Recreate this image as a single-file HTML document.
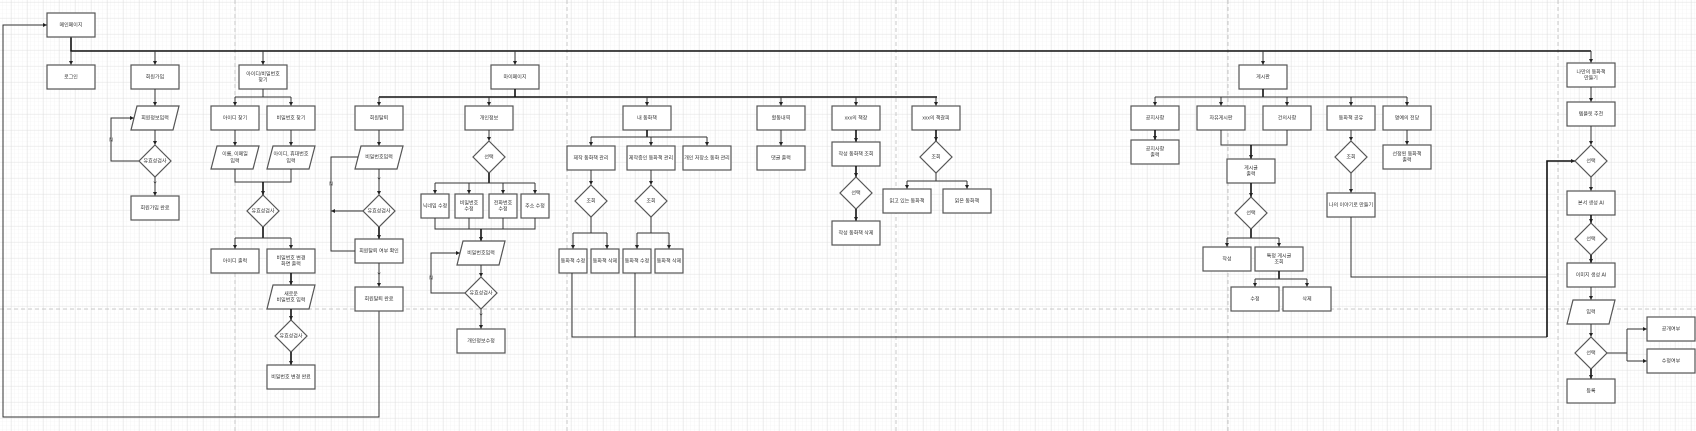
<!DOCTYPE html>
<html><head><meta charset="utf-8"><style>
html,body{margin:0;padding:0;background:#fff;}
svg{display:block;}
text{font-family:"Liberation Sans","Noto Sans CJK KR",sans-serif;font-size:5px;fill:#333;text-anchor:middle;dominant-baseline:middle;}
.b{fill:#fff;stroke:#555;stroke-width:1.2;}
.l{fill:none;stroke:#333;stroke-width:1;}
.t{fill:none;stroke:#111;stroke-width:1.6;}
.d{fill:none;stroke:#bbb;stroke-width:0.8;stroke-dasharray:4 3;}
</style></head><body>
<svg width="1696" height="431" viewBox="0 0 1696 431" xmlns="http://www.w3.org/2000/svg">
<defs>
<pattern id="mi" width="4" height="4" patternUnits="userSpaceOnUse" x="11" y="2"><path d="M4 0V4M0 4H4" stroke="#f1f1f1" stroke-width="0.6" fill="none"/></pattern>
<pattern id="ma" width="16" height="16" patternUnits="userSpaceOnUse" x="11" y="2"><path d="M0 0V16M0 0H16" stroke="#dcdcdc" stroke-width="0.8" fill="none"/></pattern>
<marker id="a" markerWidth="4" markerHeight="4" refX="4" refY="2" orient="auto" markerUnits="userSpaceOnUse"><path d="M0 0L4 2L0 4z" fill="#222"/></marker>
</defs>
<rect width="1696" height="431" fill="#fff"/>
<rect width="1696" height="431" fill="url(#mi)"/>
<rect width="1696" height="431" fill="url(#ma)"/>
<path class="d" d="M235 0V431M567 0V431M896 0V431M1228 0V431M1558 0V431M0 309H1696"/>

<path class="t" d="M71 37V51H1591"/>
<path class="l" marker-end="url(#a)" d="M71 51V65"/>
<path class="l" marker-end="url(#a)" d="M155 51V65"/>
<path class="l" marker-end="url(#a)" d="M263 51V65"/>
<path class="l" marker-end="url(#a)" d="M515 51V65"/>
<path class="l" marker-end="url(#a)" d="M1263 51V65"/>
<path class="l" marker-end="url(#a)" d="M1591 51V63"/>

<rect class="b" x="47" y="13" width="48" height="24"/><text x="71" y="25">메인페이지</text>
<path class="l" marker-end="url(#a)" d="M379 311V417H3V25H47"/>
<rect class="b" x="47" y="65" width="48" height="24"/><text x="71" y="77">로그인</text>

<rect class="b" x="131" y="65" width="48" height="24"/><text x="155" y="77">회원가입</text>
<path class="l" marker-end="url(#a)" d="M155 89V106"/>
<polygon class="b" points="137,106 179,106 173,130 131,130"/><text x="155" y="118">회원정보입력</text>
<path class="l" marker-end="url(#a)" d="M155 130V145"/>
<polygon class="b" points="155,145 171,161 155,177 139,161"/><text x="155" y="161">유효성검사</text>
<path class="l" marker-end="url(#a)" d="M139 161H111V118H134"/><text x="111" y="140">N</text>
<path class="l" marker-end="url(#a)" d="M155 177V196"/><text x="155" y="184">Y</text>
<rect class="b" x="131" y="196" width="48" height="24"/><text x="155" y="208">회원가입 완료</text>

<rect class="b" x="239" y="65" width="48" height="24"/><text x="263" y="74">아이디/비밀번호</text><text x="263" y="80">찾기</text>
<path class="l" d="M263 89V97H235M263 97H291"/>
<path class="l" marker-end="url(#a)" d="M235 97V106"/><path class="l" marker-end="url(#a)" d="M291 97V106"/>
<rect class="b" x="211" y="106" width="48" height="24"/><text x="235" y="118">아이디 찾기</text>
<rect class="b" x="267" y="106" width="48" height="24"/><text x="291" y="118">비밀번호 찾기</text>
<path class="l" marker-end="url(#a)" d="M235 130V146"/><path class="l" marker-end="url(#a)" d="M291 130V146"/>
<polygon class="b" points="217,146 259,146 253,169 211,169"/><text x="235" y="154">이름, 이메일</text><text x="235" y="161">입력</text>
<polygon class="b" points="273,146 315,146 309,169 267,169"/><text x="291" y="154">아이디, 휴대번호</text><text x="291" y="161">입력</text>
<path class="l" d="M235 169V182H291V169"/>
<path class="t" marker-end="url(#a)" d="M263 182V195"/>
<polygon class="b" points="263,195 279,211 263,227 247,211"/><text x="263" y="211">유효성검사</text>
<path class="t" d="M263 227V238"/><path class="l" d="M235 238H291"/>
<path class="l" marker-end="url(#a)" d="M235 238V249"/><path class="l" marker-end="url(#a)" d="M291 238V249"/>
<rect class="b" x="211" y="249" width="48" height="24"/><text x="235" y="261">아이디 출력</text>
<rect class="b" x="267" y="249" width="48" height="24"/><text x="291" y="258">비밀번호 변경</text><text x="291" y="264">화면 출력</text>
<path class="t" marker-end="url(#a)" d="M291 273V285"/>
<polygon class="b" points="273,285 315,285 309,309 267,309"/><text x="291" y="294">새로운</text><text x="291" y="300">비밀번호 입력</text>
<path class="t" marker-end="url(#a)" d="M291 309V320"/>
<polygon class="b" points="291,320 307,336 291,352 275,336"/><text x="291" y="336">유효성검사</text>
<path class="t" marker-end="url(#a)" d="M291 352V365"/>
<rect class="b" x="267" y="365" width="48" height="24"/><text x="291" y="377">비밀번호 변경 완료</text>

<rect class="b" x="491" y="65" width="48" height="24"/><text x="515" y="77">마이페이지</text>
<path class="t" d="M515 89V97M379 97H937"/>
<path class="l" marker-end="url(#a)" d="M379 97V106"/>
<path class="l" marker-end="url(#a)" d="M489 97V106"/>
<path class="l" marker-end="url(#a)" d="M647 97V106"/>
<path class="l" marker-end="url(#a)" d="M781 97V106"/>
<path class="l" marker-end="url(#a)" d="M856 97V106"/>
<path class="l" marker-end="url(#a)" d="M936 97V106"/>

<rect class="b" x="355" y="106" width="48" height="24"/><text x="379" y="118">회원탈퇴</text>
<path class="l" marker-end="url(#a)" d="M379 130V146"/>
<polygon class="b" points="361,146 403,146 397,169 355,169"/><text x="379" y="157">비밀번호입력</text>
<path class="l" marker-end="url(#a)" d="M379 169V195"/><text x="379" y="180">Y</text>
<polygon class="b" points="379,195 395,211 379,227 363,211"/><text x="379" y="211">유효성검사</text>
<path class="t" marker-end="url(#a)" d="M379 227V239"/>
<rect class="b" x="355" y="239" width="48" height="24"/><text x="379" y="251">회원탈퇴 여부 확인</text>
<path class="l" marker-end="url(#a)" d="M355 251H331V157H358M363 211H331"/><text x="331" y="184">N</text>
<path class="l" marker-end="url(#a)" d="M379 263V287"/><text x="379" y="275">Y</text>
<rect class="b" x="355" y="287" width="48" height="24"/><text x="379" y="299">회원탈퇴 완료</text>

<rect class="b" x="465" y="106" width="48" height="24"/><text x="489" y="118">개인정보</text>
<path class="l" marker-end="url(#a)" d="M489 130V141"/>
<polygon class="b" points="489,141 505,157 489,173 473,157"/><text x="489" y="157">선택</text>
<path class="t" d="M489 173V183"/><path class="l" d="M435 183H535"/>
<path class="l" marker-end="url(#a)" d="M435 183V194"/><path class="l" marker-end="url(#a)" d="M469 183V194"/>
<path class="l" marker-end="url(#a)" d="M503 183V194"/><path class="l" marker-end="url(#a)" d="M535 183V194"/>
<rect class="b" x="421" y="194" width="28" height="24"/><text x="435" y="206">닉네임 수정</text>
<rect class="b" x="455" y="194" width="28" height="24"/><text x="469" y="203">비밀번호</text><text x="469" y="209">수정</text>
<rect class="b" x="489" y="194" width="28" height="24"/><text x="503" y="203">전화번호</text><text x="503" y="209">수정</text>
<rect class="b" x="521" y="194" width="28" height="24"/><text x="535" y="206">주소 수정</text>
<path class="l" d="M435 218V229H535V218M469 218V229M503 218V229"/>
<path class="t" marker-end="url(#a)" d="M481 229V241"/>
<polygon class="b" points="463,241 505,241 499,265 457,265"/><text x="481" y="253">비밀번호입력</text>
<path class="l" marker-end="url(#a)" d="M481 265V277"/>
<polygon class="b" points="481,277 497,293 481,309 465,293"/><text x="481" y="293">유효성검사</text>
<path class="l" marker-end="url(#a)" d="M465 293H431V253H460"/><text x="431" y="278">N</text>
<path class="l" marker-end="url(#a)" d="M481 309V329"/><text x="481" y="316">Y</text>
<rect class="b" x="457" y="329" width="48" height="24"/><text x="481" y="341">개인정보수정</text>

<rect class="b" x="623" y="106" width="48" height="24"/><text x="647" y="118">내 동화책</text>
<path class="t" d="M647 130V137"/><path class="l" d="M591 137H707"/>
<path class="l" marker-end="url(#a)" d="M591 137V146"/><path class="l" marker-end="url(#a)" d="M651 137V146"/><path class="l" marker-end="url(#a)" d="M707 137V146"/>
<rect class="b" x="567" y="146" width="48" height="24"/><text x="591" y="158">제작 동화책 관리</text>
<rect class="b" x="627" y="146" width="48" height="24"/><text x="651" y="158">제작중인 동화책 관리</text>
<rect class="b" x="683" y="146" width="48" height="24"/><text x="707" y="158">개인 저장소 동화 관리</text>
<path class="l" marker-end="url(#a)" d="M591 170V185"/><path class="l" marker-end="url(#a)" d="M651 170V185"/>
<polygon class="b" points="591,185 607,201 591,217 575,201"/><text x="591" y="201">조회</text>
<polygon class="b" points="651,185 667,201 651,217 635,201"/><text x="651" y="201">조회</text>
<path class="l" d="M591 217V233M573 233H607M651 217V233M637 233H669"/>
<path class="l" marker-end="url(#a)" d="M573 233V249"/><path class="l" marker-end="url(#a)" d="M607 233V249"/>
<path class="l" marker-end="url(#a)" d="M637 233V249"/><path class="l" marker-end="url(#a)" d="M669 233V249"/>
<rect class="b" x="559" y="249" width="28" height="24"/><text x="573" y="261">동화책 수정</text>
<rect class="b" x="591" y="249" width="28" height="24"/><text x="605" y="261">동화책 삭제</text>
<rect class="b" x="623" y="249" width="28" height="24"/><text x="637" y="261">동화책 수정</text>
<rect class="b" x="655" y="249" width="28" height="24"/><text x="669" y="261">동화책 삭제</text>
<path class="l" d="M572 273V337H1547M635 273V337"/>
<path class="t" marker-end="url(#a)" d="M1547 337V161H1575"/>

<rect class="b" x="757" y="106" width="48" height="24"/><text x="781" y="118">활동내역</text>
<path class="l" marker-end="url(#a)" d="M781 130V146"/>
<rect class="b" x="757" y="146" width="48" height="24"/><text x="781" y="158">댓글 출력</text>

<rect class="b" x="832" y="106" width="48" height="24"/><text x="856" y="118">xxx의 책장</text>
<path class="t" marker-end="url(#a)" d="M856 130V142"/>
<rect class="b" x="832" y="142" width="48" height="24"/><text x="856" y="154">작성 동화책 조회</text>
<path class="t" marker-end="url(#a)" d="M856 166V177"/>
<polygon class="b" points="856,177 872,193 856,209 840,193"/><text x="856" y="193">선택</text>
<path class="t" marker-end="url(#a)" d="M856 209V221"/>
<rect class="b" x="832" y="221" width="48" height="24"/><text x="856" y="233">작성 동화책 삭제</text>

<rect class="b" x="912" y="106" width="48" height="24"/><text x="936" y="118">xxx의 책갈피</text>
<path class="t" marker-end="url(#a)" d="M936 130V141"/>
<polygon class="b" points="936,141 952,157 936,173 920,157"/><text x="936" y="157">조회</text>
<path class="l" d="M936 173V181M907 181H967"/>
<path class="l" marker-end="url(#a)" d="M907 181V189"/><path class="l" marker-end="url(#a)" d="M967 181V189"/>
<rect class="b" x="883" y="189" width="48" height="24"/><text x="907" y="201">읽고 있는 동화책</text>
<rect class="b" x="943" y="189" width="48" height="24"/><text x="967" y="201">읽은 동화책</text>

<rect class="b" x="1239" y="65" width="48" height="24"/><text x="1263" y="77">게시판</text>
<path class="t" d="M1263 89V97"/><path class="l" d="M1155 97H1407"/>
<path class="l" marker-end="url(#a)" d="M1155 97V106"/><path class="l" marker-end="url(#a)" d="M1221 97V106"/>
<path class="l" marker-end="url(#a)" d="M1287 97V106"/><path class="l" marker-end="url(#a)" d="M1351 97V106"/><path class="l" marker-end="url(#a)" d="M1407 97V106"/>
<rect class="b" x="1131" y="106" width="48" height="24"/><text x="1155" y="118">공지사항</text>
<rect class="b" x="1197" y="106" width="48" height="24"/><text x="1221" y="118">자유게시판</text>
<rect class="b" x="1263" y="106" width="48" height="24"/><text x="1287" y="118">건의사항</text>
<rect class="b" x="1327" y="106" width="48" height="24"/><text x="1351" y="118">동화책 공유</text>
<rect class="b" x="1383" y="106" width="48" height="24"/><text x="1407" y="118">명예의 전당</text>
<path class="t" marker-end="url(#a)" d="M1155 130V140"/>
<rect class="b" x="1131" y="140" width="48" height="24"/><text x="1155" y="149">공지사항</text><text x="1155" y="155">출력</text>
<path class="l" d="M1221 130V145H1287V130"/>
<path class="t" marker-end="url(#a)" d="M1251 145V159"/>
<rect class="b" x="1227" y="159" width="48" height="24"/><text x="1251" y="168">게시글</text><text x="1251" y="174">출력</text>
<path class="t" marker-end="url(#a)" d="M1251 183V197"/>
<polygon class="b" points="1251,197 1267,213 1251,229 1235,213"/><text x="1251" y="213">선택</text>
<path class="t" d="M1251 229V238"/><path class="l" d="M1227 238H1279"/>
<path class="l" marker-end="url(#a)" d="M1227 238V247"/><path class="l" marker-end="url(#a)" d="M1279 238V247"/>
<rect class="b" x="1203" y="247" width="48" height="24"/><text x="1227" y="259">작성</text>
<rect class="b" x="1255" y="247" width="48" height="24"/><text x="1279" y="256">특정 게시글</text><text x="1279" y="262">조회</text>
<path class="t" d="M1279 271V279"/><path class="l" d="M1255 279H1307"/>
<path class="l" marker-end="url(#a)" d="M1255 279V287"/><path class="l" marker-end="url(#a)" d="M1307 279V287"/>
<rect class="b" x="1231" y="287" width="48" height="24"/><text x="1255" y="299">수정</text>
<rect class="b" x="1283" y="287" width="48" height="24"/><text x="1307" y="299">삭제</text>
<path class="l" marker-end="url(#a)" d="M1351 130V141"/>
<polygon class="b" points="1351,141 1367,157 1351,173 1335,157"/><text x="1351" y="157">조회</text>
<path class="l" marker-end="url(#a)" d="M1351 173V193"/>
<rect class="b" x="1327" y="193" width="48" height="24"/><text x="1351" y="205">나의 이야기로 만들기</text>
<path class="l" d="M1351 217V277H1547"/>
<path class="l" marker-end="url(#a)" d="M1407 130V145"/>
<rect class="b" x="1383" y="145" width="48" height="24"/><text x="1407" y="154">선정된 동화책</text><text x="1407" y="160">출력</text>

<rect class="b" x="1567" y="63" width="48" height="24"/><text x="1591" y="72">나만의 동화책</text><text x="1591" y="78">만들기</text>
<path class="l" marker-end="url(#a)" d="M1591 87V102"/>
<rect class="b" x="1567" y="102" width="48" height="24"/><text x="1591" y="114">템플릿 추천</text>
<path class="l" marker-end="url(#a)" d="M1591 126V145"/>
<polygon class="b" points="1591,145 1607,161 1591,177 1575,161"/><text x="1591" y="161">선택</text>
<path class="l" marker-end="url(#a)" d="M1591 177V191"/>
<rect class="b" x="1567" y="191" width="48" height="24"/><text x="1591" y="203">본서 생성 AI</text>
<path class="t" marker-end="url(#a)" d="M1591 215V223"/>
<polygon class="b" points="1591,223 1607,239 1591,255 1575,239"/><text x="1591" y="239">선택</text>
<path class="t" marker-end="url(#a)" d="M1591 255V263"/>
<rect class="b" x="1567" y="263" width="48" height="24"/><text x="1591" y="275">이미지 생성 AI</text>
<path class="l" marker-end="url(#a)" d="M1591 287V300"/>
<polygon class="b" points="1573,300 1615,300 1609,324 1567,324"/><text x="1591" y="312">입력</text>
<path class="l" marker-end="url(#a)" d="M1591 324V337"/>
<polygon class="b" points="1591,337 1607,353 1591,369 1575,353"/><text x="1591" y="353">선택</text>
<path class="t" marker-end="url(#a)" d="M1591 369V379"/>
<rect class="b" x="1567" y="379" width="48" height="24"/><text x="1591" y="391">등록</text>
<path class="l" d="M1607 353H1627V329M1627 353V361"/>
<path class="l" marker-end="url(#a)" d="M1627 329H1647"/><path class="l" marker-end="url(#a)" d="M1627 361H1647"/>
<rect class="b" x="1647" y="317" width="48" height="24"/><text x="1671" y="329">공개여부</text>
<rect class="b" x="1647" y="349" width="48" height="24"/><text x="1671" y="361">수정여부</text>
</svg>
</body></html>
